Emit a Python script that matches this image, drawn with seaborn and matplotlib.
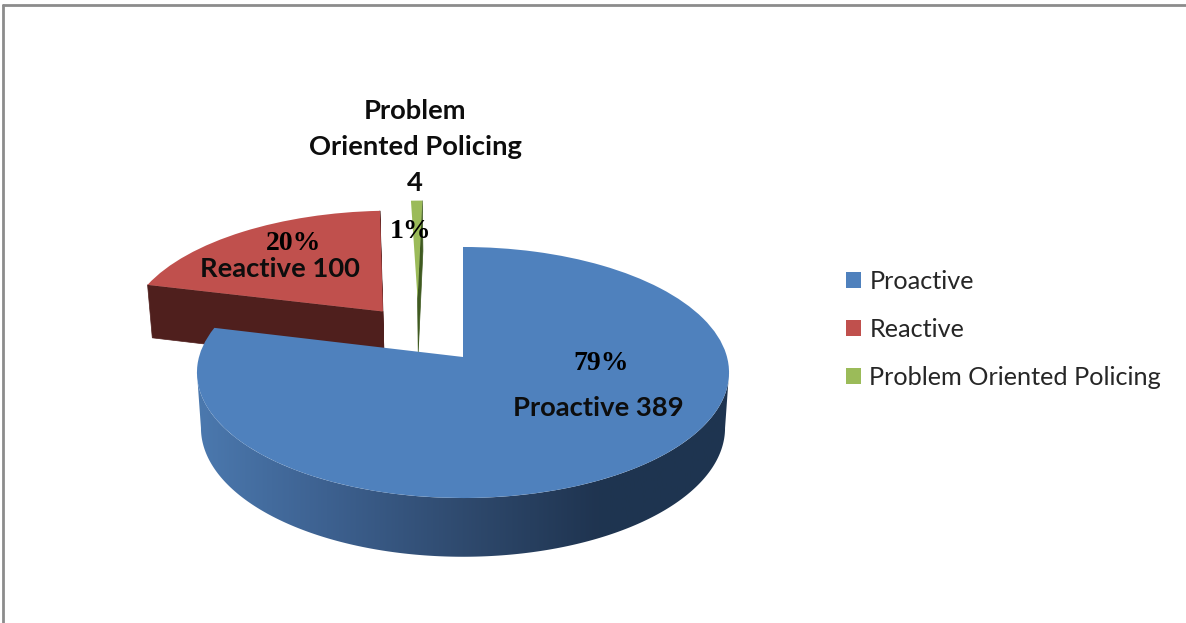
import numpy as np
import seaborn as sns
import matplotlib
matplotlib.use("Agg")
import matplotlib.pyplot as plt
from matplotlib.patches import Polygon
from matplotlib.transforms import Transform

categories = ["Proactive", "Reactive", "Problem Oriented Policing"]
values = [389, 100, 4]
percent_labels = ["79%", "20%", "1%"]
data_labels = ["Proactive 389", "Reactive 100", "Problem\nOriented Policing\n4"]

colors = sns.color_palette(["#4F81BD", "#C0504D", "#9BBB59"])
side_colors = ["#1F3551", "#4F1F1D", "#3F5A20"]
rim_ramp = sns.blend_palette(["#4C7AB0", "#3D6190", "#2F4A6E", "#1F3450", "#1E3550"], 256)

# the pie sits on a tilted plane, so unit coordinates get a perspective
apex_x, apex_y = 463, 357
scale_x, scale_y, tilt = 264, 123.6, 0.1235
depth = 55


def project(x, y):
    w = 1 + tilt * y
    return apex_x + scale_x * x / w, apex_y - scale_y * y / w


def project_low(x, y):
    w = 1 + tilt * y
    return apex_x + 0.985 * scale_x * x / w, apex_y - scale_y * y / w + depth / np.sqrt(w)


class TiltTransform(Transform):
    input_dims = 2
    output_dims = 2
    is_separable = False

    def transform_non_affine(self, values):
        px, py = project(values[:, 0], values[:, 1])
        return np.column_stack([px, py])


sns.set_theme(style="white")
fig = plt.figure(figsize=(11.86, 6.23), dpi=100)
ax = fig.add_axes([0, 0, 1, 1])

wedges, _ = ax.pie(values, colors=colors, explode=[0, 0.5, 0.5], startangle=90, counterclock=False)

# the thin slice was dragged sideways in the original
cx, cy = wedges[2].center
wedges[2].set_center((cx - 0.17, cy))

tilt_data = TiltTransform() + ax.transData
draw_order = [10, 1, 5]
cut_edges = [["theta2"], ["theta1", "theta2"], ["theta1"]]

for i, wedge in enumerate(wedges):
    z = draw_order[i]
    wedge.set_transform(tilt_data)
    wedge.set_zorder(z + 3)
    wedge.set_linewidth(0)
    cx, cy = wedge.center

    # cut faces of the slice
    for edge in cut_edges[i]:
        theta = np.radians(getattr(wedge, edge))
        ex = cx + np.cos(theta)
        ey = cy + np.sin(theta)
        x_top, y_top = project(np.array([cx, ex]), np.array([cy, ey]))
        x_low, y_low = project_low(np.array([ex, cx]), np.array([ey, cy]))
        ax.fill(np.r_[x_top, x_low], np.r_[y_top, y_low], color=side_colors[i], lw=0.5, zorder=z)

# only the front of the big slice shows its rim, between the two points of widest x
widest = np.arcsin(tilt)
t = np.linspace(-np.pi + widest, -widest, 300)
x_top, y_top = project(np.cos(t), np.sin(t))
x_low, y_low = project_low(np.cos(t[::-1]), np.sin(t[::-1]))
rim = np.column_stack([np.r_[x_top, x_low], np.r_[y_top, y_low]])
shade = ax.imshow(np.array(rim_ramp)[np.newaxis, :, :], extent=[190, 735, 623, 0],
                  aspect="auto", zorder=11, interpolation="bilinear")
shade.set_clip_path(Polygon(rim, transform=ax.transData))

ax.set_aspect("auto")
ax.set_xlim(0, 1186)
ax.set_ylim(623, 0)
ax.axis("off")

label_font = ["Lato", "DejaVu Sans"]
pct_font = ["Liberation Serif", "DejaVu Serif"]

ax.text(598, 408, data_labels[0], ha="center", va="center", fontsize=19.7, fontweight="bold",
        family=label_font, color="#0d0d0d", zorder=30)
ax.text(280, 269, data_labels[1], ha="center", va="center", fontsize=19.7, fontweight="bold",
        family=label_font, color="#0d0d0d", zorder=30)
ax.text(415, 147, data_labels[2], ha="center", va="center", fontsize=19.7, fontweight="bold",
        family=label_font, color="#0d0d0d", linespacing=1.59, zorder=30)

ax.text(601, 363, percent_labels[0], ha="center", va="center", fontsize=20, fontweight="bold",
        family=pct_font, color="black", zorder=30)
ax.text(294, 243, percent_labels[1], ha="center", va="center", fontsize=20, fontweight="bold",
        family=pct_font, color="black", zorder=30)
ax.text(411, 231, percent_labels[2], ha="center", va="center", fontsize=20, fontweight="bold",
        family=pct_font, color="black", zorder=30)

leg = ax.legend(wedges, categories, loc="upper left", bbox_to_anchor=(846 / 1186, 1 - 270 / 623),
                frameon=False, handlelength=0.6, handleheight=0.6, handletextpad=0.32,
                labelspacing=0.99, borderpad=0, borderaxespad=0, prop={"family": "Lato", "size": 18.2})
leg.set_zorder(30)
for text in leg.get_texts():
    text.set_color("#262626")

# frame left over from the document the chart was cut out of
ax.plot([3, 1186], [5, 5], color="#8c8c8c", lw=2, zorder=40, clip_on=False)
ax.plot([3, 3], [5, 623], color="#8c8c8c", lw=2, zorder=40, clip_on=False)

fig.savefig("out.png", dpi=100, facecolor="white")
